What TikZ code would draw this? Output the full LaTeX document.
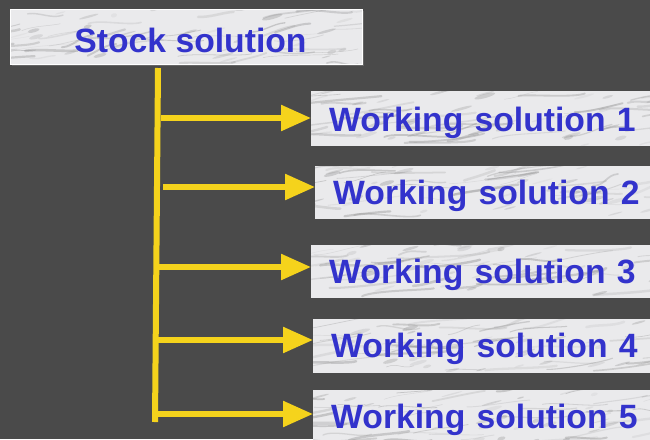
\documentclass[tikz,border=0pt]{standalone}
\usepackage{fontspec}
\setmainfont{Liberation Sans}
\usetikzlibrary{arrows.meta,calc,shadows}
\definecolor{bg}{HTML}{4A4A4A}
\definecolor{ylw}{HTML}{F5D31C}
\definecolor{txtblue}{HTML}{3333CC}
\definecolor{marble}{HTML}{EAEAEC}
\definecolor{vein}{HTML}{8A8A8A}
\pgfmathsetseed{11}
\newcommand\marblestreaks{%
  \foreach \k in {1,...,45}{%
    \pgfmathsetmacro\myop{0.10+0.30*rnd}%
    \pgfmathsetmacro\mylw{0.4+2.2*rnd}%
    \draw[line width=\mylw pt, draw=vein, opacity=\myop, line cap=round]
      let \p1=(path picture bounding box.south west),
          \p2=(path picture bounding box.north east) in
      ({\x1-40pt+rnd*(\x2-\x1+40pt)},{\y1+rnd*(\y2-\y1)})
      .. controls +(12pt,{rnd*8pt-2pt}) and +(-12pt,{-rnd*5pt}) .. +({25pt+rnd*50pt},{rnd*14pt-2pt});
  }%
  \foreach \k in {1,...,30}{%
    \pgfmathsetmacro\myop{0.08+0.25*rnd}%
    \fill[vein, opacity=\myop]
      let \p1=(path picture bounding box.south west),
          \p2=(path picture bounding box.north east) in
      ({\x1+rnd*(\x2-\x1)},{\y1+rnd*(\y2-\y1)}) ellipse [x radius={3pt+rnd*8pt}, y radius={0.6pt+rnd*1.5pt}, rotate=15];
  }}
\tikzset{
  box/.style={fill=marble, draw=none, inner ysep=0pt, text depth=0pt,
    text height=25pt, minimum height=55pt,
    font=\bfseries\fontsize{33.7}{40}\selectfont, text=txtblue,
    path picture={\marblestreaks}},
  wbox/.style={box, anchor=west, text width=330pt, align=left, inner xsep=18pt},
  conn/.style={draw=ylw, line width=6pt},
  arr/.style={draw=ylw, line width=5.5pt, -{Triangle[length=30pt,width=25pt]}},
}
\begin{document}
\begin{tikzpicture}[x=1pt,y=-1pt]
\fill[bg] (0,0) rectangle (650,439);
\useasboundingbox (0,0) rectangle (650,439);
\clip (0,0) rectangle (650,439);

\node[box, minimum width=352pt, text height=31pt,
      drop shadow={shadow xshift=1.5pt, shadow yshift=-1.5pt, fill=gray!80!black, opacity=1},
      draw=white, line width=0.8pt] (stock) at (186,36.5) {\hspace*{9pt}Stock solution};

\node[wbox] (w1) at (311,118.5) {Working solution 1};
\node[wbox, minimum height=53pt, text height=23pt] (w2) at (315,192.5) {Working solution 2};
\node[wbox, minimum height=53pt, text height=23pt] (w3) at (311,271.5) {Working solution 3};
\node[wbox, minimum height=54pt, text height=22pt] (w4) at (313,346) {Working solution 4};
\node[wbox, minimum height=54pt, text height=22pt] (w5) at (313,417) {Working solution 5};

\coordinate (vtop) at (158,68);
\coordinate (vbot) at (155,422);
\draw[conn] (vtop) -- (vbot);

\coordinate (a1) at (161,118);
\coordinate (a2) at (163,187);
\coordinate (a3) at (159,267);
\coordinate (a4) at (158,340);
\coordinate (a5) at (158,414);
\draw[arr] (a1) -- (a1 -| w1.west);
\draw[arr] (a2) -- (a2 -| w2.west);
\draw[arr] (a3) -- (a3 -| w3.west);
\draw[arr] (a4) -- (a4 -| w4.west);
\draw[arr] (a5) -- (a5 -| w5.west);
\end{tikzpicture}
\end{document}
